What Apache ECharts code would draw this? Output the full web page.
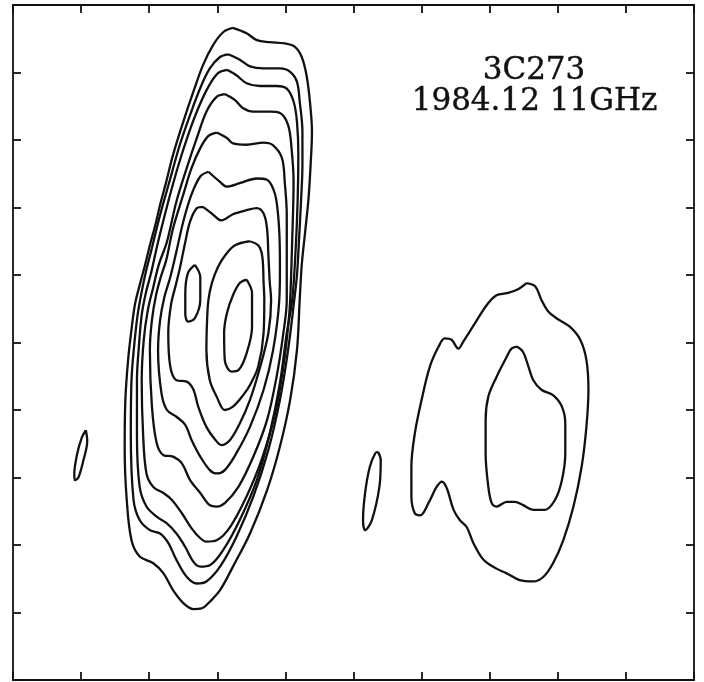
<!DOCTYPE html>
<html>
<head>
<meta charset="utf-8">
<script src="https://cdn.jsdelivr.net/npm/echarts@6/dist/echarts.min.js"></script>
<style>
  html, body { margin: 0; padding: 0; background: #ffffff; }
  #chart { width: 704px; height: 682px; }
</style>
</head>
<body>
<div id="chart"></div>
<script>
// Map frame (relative units), tick spacing
const axisMin = 0;
const axisMax = 100;
const tickStep = 10;

// Annotation text
const titleLines = ['3C273', '1984.12 11GHz'];

// Core/jet component contours, outermost (level 1) to innermost
const jetLevel1 = [[32.3,96.6],[34.3,95.8],[35.8,94.8],[37.7,94.5],[39.9,94.3],[41.4,93.8],[42.4,92.3],[43.1,89.6],[43.6,85.7],[43.9,81.2],[43.7,76.3],[43.4,71.4],[42.9,66.4],[42.4,61.5],[42.1,56.3],[41.7,48.9],[40.7,41.5],[39.2,34.6],[37.3,28.1],[34.8,21.7],[32.3,16.8],[30.4,13.3],[28.9,11.6],[27.7,10.6],[26.5,10.5],[25.0,11.4],[23.5,13.3],[22.1,15.8],[20.6,17.3],[18.6,18.3],[17.4,20.7],[16.7,26.7],[16.4,34.1],[16.5,41.5],[16.9,47.4],[17.4,51.9],[17.9,55.6],[18.6,58.5],[19.4,61.5],[20.1,64.4],[20.9,67.4],[21.6,70.4],[22.5,73.8],[23.5,77.8],[25.0,82.7],[26.5,87.2],[27.9,91.1],[29.4,94.1],[30.9,96.0],[32.3,96.6]];
const jetLevel2 = [[31.6,92.7],[33.3,91.9],[34.8,90.9],[36.8,90.6],[39.2,90.6],[40.7,90.1],[41.7,88.6],[42.1,85.7],[42.5,81.2],[42.5,76.3],[42.3,71.1],[42.0,65.2],[41.7,60.0],[41.3,56.3],[40.4,48.9],[39.2,41.5],[37.5,34.1],[35.3,27.2],[32.8,21.2],[30.4,16.8],[28.4,14.6],[27.0,14.3],[25.5,15.3],[24.0,17.8],[22.8,20.3],[21.6,21.7],[20.1,22.2],[18.6,23.7],[17.7,26.7],[17.3,36.5],[17.4,44.4],[17.8,49.6],[18.3,54.1],[18.8,57.0],[19.5,60.4],[20.4,64.0],[21.6,68.9],[23.1,74.3],[24.5,79.3],[26.0,83.7],[27.5,87.7],[28.9,90.6],[30.4,92.3],[31.6,92.7]];
const jetLevel3 = [[31.4,90.4],[32.8,89.6],[34.3,88.4],[36.3,88.0],[38.7,88.0],[40.2,87.6],[41.2,85.7],[41.7,82.7],[41.9,77.8],[41.8,71.1],[41.5,63.7],[41.0,56.3],[40.2,51.4],[39.2,44.0],[37.7,36.5],[35.8,29.6],[33.3,23.7],[30.9,19.3],[28.9,17.0],[27.5,16.8],[26.5,17.5],[25.3,19.7],[24.0,21.7],[22.6,23.2],[21.1,24.2],[19.6,25.7],[18.6,28.6],[18.2,36.5],[18.2,44.4],[18.5,49.6],[18.9,54.1],[19.5,57.3],[20.3,60.4],[21.3,64.9],[22.8,70.9],[24.3,76.3],[25.7,80.7],[27.2,84.7],[28.7,87.9],[30.1,89.9],[31.4,90.4]];
const jetLevel4 = [[31.1,86.8],[32.6,85.9],[33.8,84.7],[35.3,84.2],[37.7,84.2],[39.2,84.0],[40.4,82.2],[40.9,78.8],[41.2,73.8],[41.0,65.2],[40.7,56.3],[40.4,52.3],[39.7,46.4],[38.5,39.5],[36.5,32.6],[34.3,27.2],[31.9,22.7],[29.9,20.7],[28.4,20.5],[27.5,21.0],[26.2,22.5],[24.8,24.7],[23.3,26.7],[22.1,27.7],[20.6,28.6],[19.6,30.6],[19.1,36.5],[18.9,44.4],[19.2,50.4],[19.8,54.8],[20.6,58.2],[21.4,61.5],[22.6,64.9],[24.0,70.9],[25.5,75.8],[27.0,80.3],[28.4,84.2],[29.9,86.4],[31.1,86.8]];
const jetLevel5 = [[29.9,81.1],[31.4,80.3],[32.3,79.5],[34.3,79.3],[36.8,79.6],[38.2,79.2],[39.5,77.3],[39.9,73.8],[40.2,68.9],[40.2,62.2],[40.2,56.3],[39.7,51.4],[38.7,44.9],[37.3,38.5],[35.3,33.1],[33.1,28.6],[31.1,26.2],[29.9,25.7],[28.9,25.9],[27.5,27.7],[26.0,29.6],[24.8,32.1],[23.5,33.1],[22.1,33.3],[21.1,35.1],[20.4,40.5],[20.1,48.9],[20.4,53.3],[21.0,57.0],[21.7,59.7],[22.5,62.2],[23.5,66.9],[25.0,71.9],[26.2,75.8],[27.5,78.8],[28.7,80.6],[29.9,81.1]];
const jetLevel6 = [[28.7,75.3],[30.4,73.8],[31.4,73.1],[33.3,73.6],[35.8,74.3],[37.3,74.1],[38.2,72.8],[38.7,70.9],[39.1,66.4],[39.2,61.0],[39.1,56.3],[38.2,48.9],[36.8,43.0],[34.8,37.5],[32.8,33.6],[31.1,31.1],[29.9,30.6],[28.9,31.1],[27.5,33.1],[26.2,35.6],[25.3,37.8],[24.0,39.0],[22.6,40.0],[21.8,42.5],[21.3,48.9],[21.6,53.3],[22.2,56.6],[23.1,59.7],[24.0,63.5],[25.0,67.9],[26.2,71.9],[27.5,74.6],[28.7,75.3]];
const jetLevel7 = [[27.9,70.1],[29.2,69.1],[30.1,68.3],[30.6,68.1],[32.3,69.0],[34.3,69.6],[35.8,69.9],[36.8,69.1],[37.3,66.9],[37.5,63.0],[37.7,59.0],[37.9,56.3],[37.5,51.4],[36.3,46.4],[34.8,41.5],[33.3,38.0],[31.9,35.6],[30.6,34.8],[29.7,35.6],[28.4,37.5],[27.2,40.5],[26.5,43.0],[25.5,44.2],[24.0,44.4],[23.1,46.4],[22.8,51.4],[23.2,55.6],[23.9,58.5],[24.5,61.0],[25.3,64.9],[26.0,67.9],[27.0,69.9],[27.9,70.1]];
const jetLevel8 = [[34.7,65.0],[36.0,64.4],[36.6,62.8],[36.8,58.8],[36.9,56.3],[36.8,51.4],[36.0,46.4],[34.8,43.7],[33.8,42.2],[32.3,40.5],[31.1,40.0],[29.9,42.0],[28.9,44.4],[28.4,48.9],[28.5,53.3],[28.7,56.3],[29.2,58.8],[30.1,61.2],[31.3,63.1],[32.6,64.4],[34.7,65.0]];
const jetPeakMain = [[34.3,59.3],[35.1,57.3],[35.1,54.8],[35.1,52.3],[34.3,48.4],[33.1,45.9],[32.1,45.7],[31.1,47.4],[31.0,51.4],[31.4,54.3],[32.3,57.0],[33.3,58.8],[34.3,59.3]];
const jetPeakSide = [[26.7,61.5],[27.5,59.7],[27.5,56.3],[26.7,53.6],[25.7,53.1],[25.3,54.3],[25.3,57.3],[25.7,60.3],[26.7,61.5]];

// Isolated small islands
const islandWest = [[10.7,37.0],[10.9,35.4],[10.3,32.4],[9.6,30.0],[9.1,29.6],[9.0,30.5],[9.4,33.4],[10.1,35.9],[10.7,37.0]];
const islandMid = [[53.6,33.8],[54.0,32.6],[53.8,28.6],[52.7,23.7],[51.7,22.2],[51.4,23.7],[51.7,27.7],[52.4,31.6],[53.2,33.6],[53.6,33.8]];

// Eastern component contours
const eastLevel1 = [[75.4,58.8],[76.7,58.3],[77.6,56.3],[78.6,54.6],[79.8,53.6],[81.8,52.3],[83.3,50.4],[84.2,47.4],[84.5,43.0],[84.2,37.5],[83.5,31.6],[82.3,25.7],[80.8,20.7],[79.3,17.3],[77.9,15.3],[76.4,14.6],[74.4,14.8],[72.5,15.8],[71.0,16.5],[69.1,17.8],[67.6,20.3],[66.6,22.7],[65.6,23.7],[64.7,25.2],[63.7,28.4],[63.0,29.4],[62.2,28.6],[61.0,26.2],[59.8,24.4],[59.0,24.7],[58.5,27.2],[58.5,31.6],[59.0,36.5],[60.0,41.5],[61.2,46.4],[62.5,49.4],[63.4,50.6],[64.4,50.4],[65.4,49.1],[66.1,50.1],[67.8,52.8],[69.6,55.6],[71.0,57.0],[72.5,57.3],[74.0,57.8],[75.4,58.8]];
const eastLevel2 = [[74.0,49.4],[74.9,48.6],[75.7,46.4],[76.4,44.4],[77.6,43.0],[79.3,42.2],[80.6,40.5],[81.1,38.0],[81.1,33.6],[80.6,29.6],[79.6,26.7],[78.1,25.2],[76.4,25.2],[74.9,25.9],[73.7,26.4],[72.5,26.4],[71.0,25.7],[70.3,26.2],[69.8,28.6],[69.4,33.6],[69.4,38.5],[69.8,42.0],[71.0,44.9],[72.5,47.9],[73.2,49.1],[74.0,49.4]];

const contours = [jetLevel1, jetLevel2, jetLevel3, jetLevel4, jetLevel5, jetLevel6, jetLevel7, jetLevel8,
                  jetPeakMain, jetPeakSide, islandWest, islandMid, eastLevel1, eastLevel2];

const ink = '#111111';
const chart = echarts.init(document.getElementById('chart'), null, { renderer: 'canvas' });

function frameAxis(position) {
  return {
    type: 'value',
    position: position,
    min: axisMin,
    max: axisMax,
    interval: tickStep,
    axisLine: { show: true, onZero: false, lineStyle: { color: ink, width: 1.8 } },
    axisTick: { show: true, inside: true, length: 8, lineStyle: { color: ink, width: 1.8 } },
    axisLabel: { show: false },
    splitLine: { show: false }
  };
}

chart.setOption({
  animation: false,
  backgroundColor: '#ffffff',
  grid: { left: 13, top: 5, right: 10, bottom: 2, containLabel: false },
  xAxis: [frameAxis('bottom'), frameAxis('top')],
  yAxis: [frameAxis('left'), frameAxis('right')],
  graphic: [
    { type: 'text', x: 534, y: 71, style: { text: titleLines[0], fill: ink, stroke: ink, lineWidth: 0.4, font: '31px "DejaVu Serif"', textAlign: 'center', textVerticalAlign: 'middle' } },
    { type: 'text', x: 534.5, y: 102, style: { text: titleLines[1], fill: ink, stroke: ink, lineWidth: 0.4, font: '31px "DejaVu Serif"', textAlign: 'center', textVerticalAlign: 'middle' } }
  ],
  series: contours.map(function (c) {
    return {
      type: 'line',
      data: c,
      xAxisIndex: 0,
      yAxisIndex: 0,
      showSymbol: false,
      symbol: 'none',
      smooth: 0.35,
      lineStyle: { color: ink, width: 2.3 },
      silent: true
    };
  })
});
</script>
</body>
</html>
